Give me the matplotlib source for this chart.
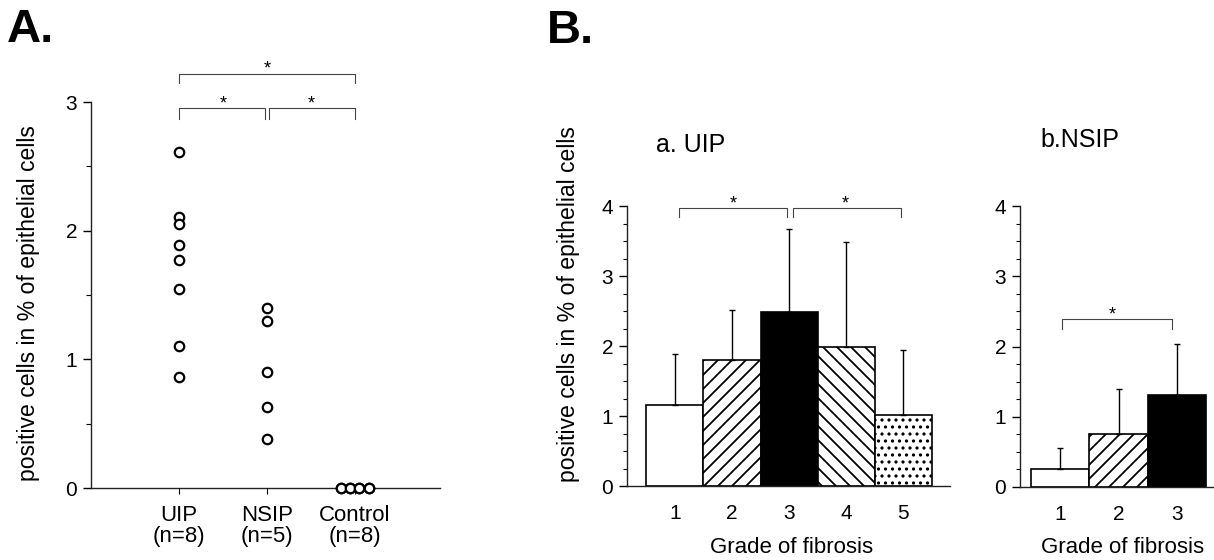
import matplotlib
matplotlib.use('Agg')
import matplotlib.pyplot as plt
import numpy as np

# ---------------- data ----------------
groups_a = ['UIP\n(n=8)', 'NSIP\n(n=5)', 'Control\n(n=8)']
uip_vals = [2.61, 2.11, 2.05, 1.89, 1.77, 1.55, 1.10, 0.86]
nsip_vals = [1.40, 1.30, 0.90, 0.63, 0.38]
control_vals = [0, 0, 0, 0, 0, 0, 0, 0]

grades_uip = [1, 2, 3, 4, 5]
mean_uip = [1.16, 1.80, 2.48, 1.99, 1.02]
sd_uip = [0.73, 0.72, 1.19, 1.49, 0.92]

grades_nsip = [1, 2, 3]
mean_nsip = [0.25, 0.755, 1.31]
sd_nsip = [0.30, 0.635, 0.72]

ylabel = 'positive cells in % of epithelial cells'
xlabel_b = 'Grade of fibrosis'

# ---------------- styles ----------------
# A lower dpi makes the hatch spacing match; all point sizes are rescaled
DPI = 84
K = 100.0 / DPI


def P(v):
    return v * K


plt.rcParams['font.family'] = ['Liberation Sans', 'DejaVu Sans']
plt.rcParams['hatch.linewidth'] = P(1.3)

W, H = 1214, 560
fig = plt.figure(figsize=(W / DPI, H / DPI), dpi=DPI)


def fx(px):
    return px / W


def fy(py):
    return 1 - py / H


def axes_px(x0, y0, x1, y1):
    return fig.add_axes([fx(x0), fy(y1), fx(x1) - fx(x0), fy(y0) - fy(y1)])


def style_axes(ax):
    for s in ['top', 'right']:
        ax.spines[s].set_visible(False)
    for s in ['left', 'bottom']:
        ax.spines[s].set_linewidth(P(1.0))
        ax.spines[s].set_color('#222222')


bracket_kw = dict(color='#444444', lw=P(0.8), clip_on=False)
star_fs = P(13)


def bracket(ax, x0, x1, ytop, ydrop, xstar):
    ax.plot([x0, x0, x1, x1], [ydrop, ytop, ytop, ydrop], **bracket_kw)
    ax.text(xstar, ytop, '*', ha='center', va='baseline', fontsize=star_fs)


# ---------------- Panel A ----------------
axA = axes_px(91, 102, 440, 488)
style_axes(axA)
axA.set_xlim(0, 3.97)
axA.set_ylim(0, 3)

mk = dict(marker='o', mfc='white', mec='black', ms=P(6.8), mew=P(1.6),
          linestyle='none', clip_on=False, zorder=3)
axA.plot(np.full(len(uip_vals), 1.0), uip_vals, **mk)
axA.plot(np.full(len(nsip_vals), 2.0), nsip_vals, **mk)
spread = np.tile(np.linspace(-0.16, 0.16, 4), 2)
axA.plot(3.0 + spread[:len(control_vals)], control_vals, **mk)

axA.set_yticks([0, 1, 2, 3])
axA.set_yticks(np.arange(0, 3.01, 0.5), minor=True)
axA.set_xticks([1, 2, 3])
axA.set_xticklabels(groups_a, fontsize=P(16), linespacing=1.05)
axA.tick_params(axis='y', which='major', length=P(6), width=P(1), labelsize=P(15), pad=P(4))
axA.tick_params(axis='y', which='minor', length=P(3.5), width=P(0.8))
axA.tick_params(axis='x', which='major', length=P(4), width=P(0.8), pad=P(8))

bracket(axA, 1.0, 3.0, 3.22, 3.15, 2.0)
bracket(axA, 1.0, 1.98, 2.95, 2.87, 1.5)
bracket(axA, 2.02, 3.0, 2.95, 2.87, 2.5)

fig.text(fx(29), fy(303), ylabel, rotation=90, ha='center', va='center', fontsize=P(16.6))
fig.text(fx(7), fy(42), 'A.', ha='left', va='baseline', fontsize=P(34), fontweight='bold')

# ---------------- Panel B ----------------
fills_uip = ['white', 'white', 'black', 'white', 'white']
hatches_uip = ['', '//', '', '\\\\', '..']
fills_nsip = ['white', 'white', 'black']
hatches_nsip = ['', '//', '']


def bar_panel(ax, grades, means, sds, fills, hatches):
    style_axes(ax)
    ax.bar(grades, means, width=1.0, color=fills, edgecolor='black',
           hatch=hatches, linewidth=P(1.2), zorder=2)
    ax.errorbar(grades, means, yerr=[np.zeros(len(sds)), sds], fmt='none',
                ecolor='black', elinewidth=P(1.0), capsize=P(2), capthick=P(1.0), zorder=3)
    ax.set_ylim(0, 4)
    ax.set_yticks([0, 1, 2, 3, 4])
    ax.set_yticks(np.arange(0, 4.01, 0.25), minor=True)
    ax.set_xticks(grades)
    ax.tick_params(axis='y', which='major', length=P(6), width=P(1), labelsize=P(15), pad=P(4))
    ax.tick_params(axis='y', which='minor', length=P(3), width=P(0.8))
    ax.tick_params(axis='x', which='major', length=0, labelsize=P(15), pad=P(13))


axBa = axes_px(627, 206, 950, 486)
bar_panel(axBa, grades_uip, mean_uip, sd_uip, fills_uip, hatches_uip)
axBa.set_xlim(0.16, 5.82)
bracket(axBa, 1.07, 2.96, 3.97, 3.84, 2.02)
bracket(axBa, 3.07, 4.96, 3.97, 3.84, 3.98)

axBb = axes_px(1020, 206, 1214, 487)
bar_panel(axBb, grades_nsip, mean_nsip, sd_nsip, fills_nsip, hatches_nsip)
axBb.set_xlim(0.316, 3.63)
bracket(axBb, 1.03, 2.91, 2.39, 2.25, 1.9)

fig.text(fx(569), fy(304), ylabel, rotation=90, ha='center', va='center', fontsize=P(16.6))
fig.text(fx(547), fy(43), 'B.', ha='left', va='baseline', fontsize=P(34), fontweight='bold')
fig.text(fx(691), fy(152), 'a. UIP', ha='center', va='baseline', fontsize=P(18))
fig.text(fx(1080), fy(147), 'b.NSIP', ha='center', va='baseline', fontsize=P(18))
fig.text(fx(792), fy(553), xlabel_b, ha='center', va='baseline', fontsize=P(16))
fig.text(fx(1123), fy(553), xlabel_b, ha='center', va='baseline', fontsize=P(16))

fig.savefig('out.png', dpi=DPI, facecolor='white')
